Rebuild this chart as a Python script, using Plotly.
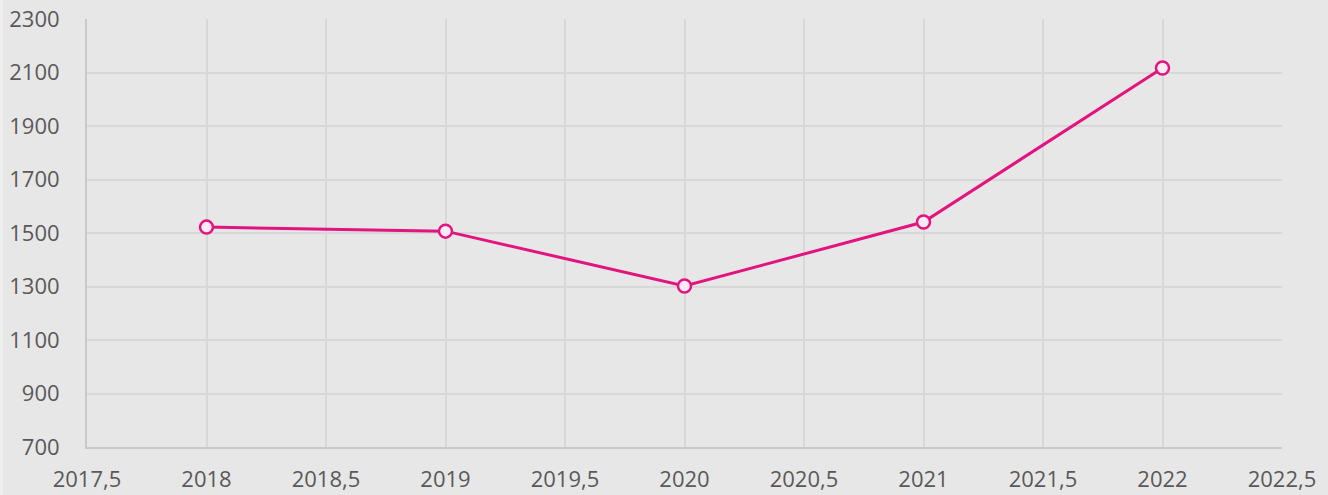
import plotly.graph_objects as go

years = [2018, 2019, 2020, 2021, 2022]
values = [1522, 1507, 1302, 1541, 2117]

x_tick_vals = [2017.5, 2018, 2018.5, 2019, 2019.5, 2020, 2020.5, 2021, 2021.5, 2022, 2022.5]
x_tick_text = ["2017,5", "2018", "2018,5", "2019", "2019,5", "2020", "2020,5", "2021", "2021,5", "2022", "2022,5"]
y_tick_vals = [700, 900, 1100, 1300, 1500, 1700, 1900, 2100, 2300]

line_color = "#e2157f"
bg = "#e7e7e7"
grid = "#d8d8d8"
axis_col = "#c9c9c9"
font_col = "#595959"

plot_w = 1328 - 87 - 46

fig = go.Figure()
fig.add_trace(go.Scatter(
    x=years, y=values, mode="lines+markers",
    line=dict(color=line_color, width=3),
    marker=dict(size=13, color="#fdeaf4", line=dict(color=line_color, width=2.5)),
    hoverinfo="x+y",
))

fig.update_layout(
    width=1328, height=495,
    paper_bgcolor=bg, plot_bgcolor=bg,
    margin=dict(l=87, r=46, t=19, b=48, autoexpand=False),
    showlegend=False,
    font=dict(family="Open Sans, sans-serif", size=22, color=font_col),
    separators=",.",
    shapes=[dict(type="rect", xref="paper", yref="paper",
                 x0=-87 / plot_w, x1=-84 / plot_w, y0=-0.2, y1=1.1,
                 fillcolor="#eeeeee", line=dict(width=0), layer="below")],
)
fig.update_xaxes(
    range=[2017.5, 2022.5], tickvals=x_tick_vals, ticktext=x_tick_text,
    showgrid=True, gridcolor=grid, gridwidth=2,
    showline=True, linecolor=axis_col, linewidth=2, mirror=False,
    zeroline=False, ticks="outside", ticklen=12, tickcolor="rgba(0,0,0,0)",
    automargin=False,
)
fig.update_yaxes(
    range=[700, 2300], tickvals=y_tick_vals,
    showgrid=True, gridcolor=grid, gridwidth=2,
    showline=True, linecolor=axis_col, linewidth=2,
    zeroline=False, ticks="outside", ticklen=21, tickcolor="rgba(0,0,0,0)",
    automargin=False,
)

fig.write_html("out.html", config={"displayModeBar": False},
               post_script="document.body.style.margin='0';document.body.style.background='#e7e7e7';")
